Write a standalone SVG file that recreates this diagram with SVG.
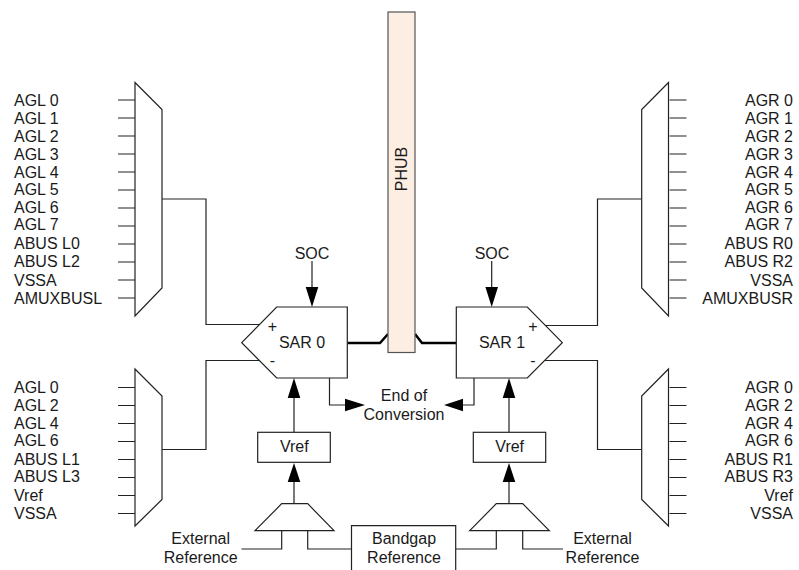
<svg xmlns="http://www.w3.org/2000/svg" width="799" height="570" viewBox="0 0 799 570">
<style>
text{font-family:"Liberation Sans",Arial,sans-serif;font-size:16px;fill:#1a1a1a}
.m{text-anchor:middle}.e{text-anchor:end}
.s{fill:#fff;stroke:#222;stroke-width:1.2}
.l{fill:none;stroke:#222;stroke-width:1.2}
.b{fill:none;stroke:#000;stroke-width:2.5}
.h{fill:#000;stroke:none}
</style>
<defs>
<path id="stubs12" class="l" d="M118 100H135M118 118H135M118 136H135M118 154H135M118 172H135M118 190H135M118 208H135M118 226H135M118 244H135M118 262H135M118 280H135M118 298H135"/>
<path id="stubs8" class="l" d="M118 387.500H135M118 405.500H135M118 423.500H135M118 441.500H135M118 459.500H135M118 477.500H135M118 495.500H135M118 513.500H135"/>
</defs>
<g id="connectors">
<path class="l" d="M162 199H206V324.500H261M162 449.500H206V360.500H261"/>
<path class="l" d="M641.700 199H597.500V325.500H545M641.700 449.500H597.500V360.500H545"/>
<path class="b" d="M347.500 343H380L388 334M415 334L422 343H456.500"/>
<path class="l" d="M312 261V290M491.700 261V290"/>
<path class="h" d="M305.700 287H318.300L312 307ZM485.400 287H498L491.700 307Z"/>
<path class="l" d="M294 432V396M509 432V396M294 504V480M509 504V480"/>
<path class="h" d="M287.700 398H300.300L294 378ZM502.700 398H515.300L509 378ZM287.700 482H300.300L294 463ZM502.700 482H515.300L509 463Z"/>
<path class="l" d="M329.500 378V405H348M474 378V405H460"/>
<path class="h" d="M345 398.700V411.300L365 405ZM463 398.700V411.300L444 405Z"/>
<path class="l" d="M281.700 531V549H241.500M307.700 531V549H351M496.300 531V549H456M522.700 531V549H563"/>
</g>
<g id="phub"><rect x="388" y="12" width="27" height="340.500" fill="#fdeee3" stroke="#555" stroke-width="1.200"/><text class="m" transform="translate(406.500 169) rotate(-90)">PHUB</text></g>
<g id="sar0"><path class="s" d="M241.700 342.700L276.700 307H347.300V378H276.700Z"/><text x="272.500" y="331.500" class="m">+</text><text x="272.500" y="365.500" class="m">-</text><text x="302" y="347.500" class="m">SAR 0</text></g>
<g id="sar1"><path class="s" d="M562.300 342.700L527.300 307H456.300V378H527.300Z"/><text x="533" y="331.500" class="m">+</text><text x="533" y="365.500" class="m">-</text><text x="502" y="347.500" class="m">SAR 1</text></g>
<g id="soc0"><text x="312" y="258.500" class="m">SOC</text></g>
<g id="soc1"><text x="492" y="258.500" class="m">SOC</text></g>
<g id="vref0"><rect class="s" x="257.700" y="432.300" width="72.600" height="30"/><text x="294.300" y="451.500" class="m">Vref</text></g>
<g id="vref1"><rect class="s" x="473.300" y="432.300" width="72.400" height="30"/><text x="509.700" y="451.500" class="m">Vref</text></g>
<g id="refmux0"><path class="s" d="M255 530.700L281.700 503.700H307.700L334 530.700Z"/></g>
<g id="refmux1"><path class="s" d="M469.700 530.700L496.300 503.700H522.700L549.300 530.700Z"/></g>
<g id="extref0"><text x="200.700" y="544" class="m">External</text><text x="200.700" y="563" class="m">Reference</text></g>
<g id="extref1"><text x="602.500" y="544" class="m">External</text><text x="602.500" y="563" class="m">Reference</text></g>
<g id="bandgap"><path class="s" d="M351.500 570V525.700H455.700V570"/><text x="404" y="544" class="m">Bandgap</text><text x="404" y="563" class="m">Reference</text></g>
<g id="eoc"><text x="404" y="401" class="m">End of</text><text x="404" y="420" class="m">Conversion</text></g>
<g id="mux-left-top"><use href="#stubs12"/><path class="s" d="M135 82.500L162 109.500V288L135 316Z"/>
<text x="14" y="105.500">AGL 0</text><text x="14" y="123.500">AGL 1</text><text x="14" y="141.500">AGL 2</text><text x="14" y="159.500">AGL 3</text><text x="14" y="177.500">AGL 4</text><text x="14" y="195">AGL 5</text><text x="14" y="212.500">AGL 6</text><text x="14" y="230">AGL 7</text><text x="14" y="249">ABUS L0</text><text x="14" y="266.500">ABUS L2</text><text x="14" y="285.500">VSSA</text><text x="14" y="303.500">AMUXBUSL</text></g>
<g id="mux-left-bottom"><use href="#stubs8"/><path class="s" d="M135 369L162 396V499.500L135 526Z"/>
<text x="14" y="393">AGL 0</text><text x="14" y="410.500">AGL 2</text><text x="14" y="428.500">AGL 4</text><text x="14" y="445.500">AGL 6</text><text x="14" y="464.500">ABUS L1</text><text x="14" y="482">ABUS L3</text><text x="14" y="500.500">Vref</text><text x="14" y="518.500">VSSA</text></g>
<g id="mux-right-top"><use href="#stubs12" transform="translate(804.500)scale(-1 1)"/><path class="s" d="M668.500 82.500L641.700 109.500V288L668.500 316Z"/>
<g class="e"><text x="793" y="105.500">AGR 0</text><text x="793" y="123.500">AGR 1</text><text x="793" y="141.500">AGR 2</text><text x="793" y="159.500">AGR 3</text><text x="793" y="177.500">AGR 4</text><text x="793" y="195">AGR 5</text><text x="793" y="212.500">AGR 6</text><text x="793" y="230">AGR 7</text><text x="793" y="249">ABUS R0</text><text x="793" y="266.500">ABUS R2</text><text x="793" y="285.500">VSSA</text><text x="793" y="303.500">AMUXBUSR</text></g></g>
<g id="mux-right-bottom"><use href="#stubs8" transform="translate(804.500)scale(-1 1)"/><path class="s" d="M668.500 369L641.700 396V499.500L668.500 526Z"/>
<g class="e"><text x="793" y="393">AGR 0</text><text x="793" y="410.500">AGR 2</text><text x="793" y="428.500">AGR 4</text><text x="793" y="445.500">AGR 6</text><text x="793" y="464.500">ABUS R1</text><text x="793" y="482">ABUS R3</text><text x="793" y="500.500">Vref</text><text x="793" y="518.500">VSSA</text></g></g>
</svg>
